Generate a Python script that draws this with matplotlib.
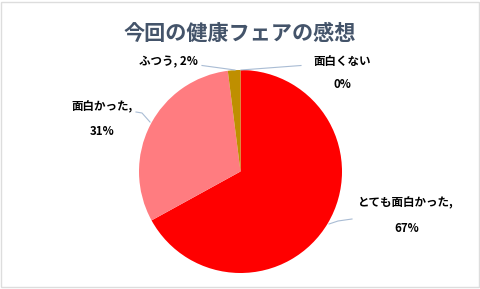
import matplotlib
matplotlib.use("Agg")
import matplotlib.pyplot as plt
from matplotlib.patches import Rectangle

plt.rcParams['font.family'] = ['Noto Sans CJK JP', 'DejaVu Sans']

title = "今回の健康フェアの感想"
categories = ["とても面白かった", "面白かった", "ふつう", "面白くない"]
percents = [67, 31, 2, 0]
colors = ["#FF0000", "#FF7C80", "#BF8F00", "#FFC000"]

W, H = 481, 289
fig = plt.figure(figsize=(W / 100, H / 100), dpi=100)
ax = fig.add_axes([0, 0, 1, 1])

def Y(y):
    return H - y

cx, cy, r = 240.5, 171.5, 101.5
ax.pie(percents, colors=colors, startangle=90, counterclock=False,
       center=(cx, Y(cy)), radius=r, frame=True,
       wedgeprops=dict(linewidth=0))
ax.set_xlim(0, W)
ax.set_ylim(0, H)
ax.set_aspect('equal')
ax.axis('off')

# chart frame
ax.add_patch(Rectangle((1.5, 1.5), W - 3.5, H - 3.5, fill=False,
                       edgecolor="#DDDDDD", linewidth=1.0))

ax.text(240, Y(33), title, ha='center', va='center', fontsize=15.2,
        fontweight='bold', color="#44546A")

lead = "#A9BCD4"
lab_kw = dict(ha='center', va='center', fontsize=8.3, fontweight='bold', color="#000000")

# とても面白かった
ax.plot([329, 338, 352], [Y(224), Y(221), Y(219)], color=lead, lw=0.8)
ax.text(406, Y(203), f"{categories[0]},", **lab_kw)
ax.text(407, Y(228), f"{percents[0]}%", **lab_kw)

# 面白かった
ax.plot([150, 142, 136], [Y(122), Y(113), Y(112)], color=lead, lw=0.8)
ax.text(102, Y(107), f"{categories[1]},", **lab_kw)
ax.text(102, Y(131), f"{percents[1]}%", **lab_kw)

# ふつう
ax.plot([202, 235], [Y(65.5), Y(70)], color=lead, lw=0.8)
ax.text(168, Y(62), f"{categories[2]}, {percents[2]}%", **lab_kw)

# 面白くない
ax.plot([241, 301], [Y(70), Y(65.5)], color=lead, lw=0.8)
ax.text(342, Y(61), categories[3], **lab_kw)
ax.text(342, Y(84), f"{percents[3]}%", **lab_kw)

fig.savefig("out.png", dpi=100)
